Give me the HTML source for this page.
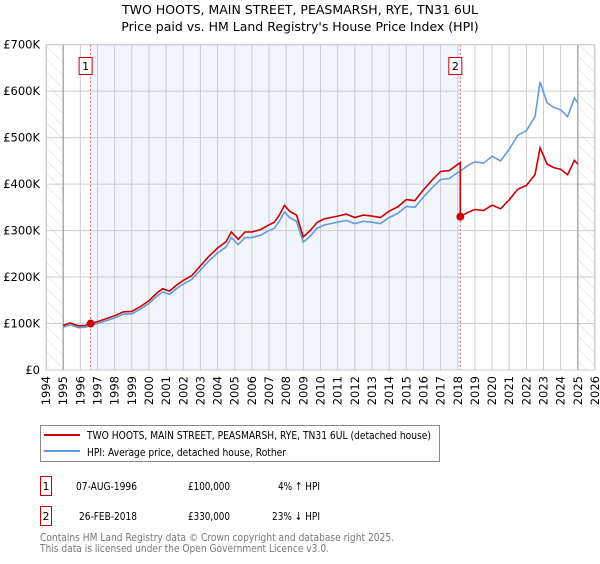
<!DOCTYPE html>
<html><head><meta charset="utf-8"><style>
body{margin:0;background:#fff;font-family:"DejaVu Sans","Liberation Sans",sans-serif;}
svg text{font-family:"DejaVu Sans","Liberation Sans",sans-serif;}
</style></head><body>
<svg id="chart" width="600" height="560" xmlns="http://www.w3.org/2000/svg">
<defs><pattern id="hatch" width="9" height="9" patternUnits="userSpaceOnUse" patternTransform="rotate(-45)"><line x1="0" y1="0" x2="0" y2="9" stroke="#d8d8d8" stroke-width="1"/></pattern></defs>
<text x="300" y="14" font-size="12.5" text-anchor="middle">TWO HOOTS, MAIN STREET, PEASMARSH, RYE, TN31 6UL</text>
<text x="300" y="31" font-size="12.5" text-anchor="middle">Price paid vs. HM Land Registry's House Price Index (HPI)</text>
<g id="plot"></g>
<g>
<rect x="40.5" y="425.5" width="399" height="36" fill="#fff" stroke="#888"/>
<line x1="44" y1="435" x2="80" y2="435" stroke="#cc0000" stroke-width="2"/>
<text x="87" y="439" font-size="11" textLength="344" lengthAdjust="spacingAndGlyphs">TWO HOOTS, MAIN STREET, PEASMARSH, RYE, TN31 6UL (detached house)</text>
<line x1="44" y1="451" x2="80" y2="451" stroke="#6699dd" stroke-width="2"/>
<text x="87" y="456" font-size="11" textLength="199" lengthAdjust="spacingAndGlyphs">HPI: Average price, detached house, Rother</text>
</g>
<g font-size="11">
<rect x="40.5" y="476.5" width="11" height="19" fill="#fff" stroke="#cc0000"/>
<text x="46" y="490" text-anchor="middle">1</text>
<text x="76" y="490" textLength="61" lengthAdjust="spacingAndGlyphs">07-AUG-1996</text>
<text x="188" y="490" textLength="42" lengthAdjust="spacingAndGlyphs">£100,000</text>
<text x="278" y="490" textLength="42" lengthAdjust="spacingAndGlyphs">4% ↑ HPI</text>
<rect x="40.5" y="506.5" width="11" height="19" fill="#fff" stroke="#cc0000"/>
<text x="46" y="520" text-anchor="middle">2</text>
<text x="79" y="520" textLength="58" lengthAdjust="spacingAndGlyphs">26-FEB-2018</text>
<text x="188" y="520" textLength="42" lengthAdjust="spacingAndGlyphs">£330,000</text>
<text x="272" y="520" textLength="48" lengthAdjust="spacingAndGlyphs">23% ↓ HPI</text>
</g>
<g font-size="11" fill="#777">
<text x="40" y="541" textLength="354" lengthAdjust="spacingAndGlyphs">Contains HM Land Registry data © Crown copyright and database right 2025.</text>
<text x="40" y="552" textLength="289" lengthAdjust="spacingAndGlyphs">This data is licensed under the Open Government Licence v3.0.</text>
</g>
</svg>
<script>
const hpiYears=[1995.0,1995.4,1995.9,1996.3,1996.6,1997.0,1997.5,1998.0,1998.5,1999.0,1999.5,2000.0,2000.5,2000.8,2001.2,2001.6,2002.0,2002.5,2003.0,2003.5,2004.0,2004.5,2004.8,2005.2,2005.6,2006.0,2006.5,2007.0,2007.3,2007.6,2007.9,2008.2,2008.6,2009.0,2009.4,2009.8,2010.2,2010.6,2011.0,2011.5,2012.0,2012.5,2013.0,2013.5,2014.0,2014.5,2015.0,2015.5,2016.0,2016.5,2017.0,2017.5,2018.0,2018.15,2018.6,2019.0,2019.5,2020.0,2020.5,2021.0,2021.5,2022.0,2022.5,2022.8,2023.2,2023.6,2024.0,2024.4,2024.8,2025.0];
const hpiValues=[92,97,91,92,96,100,106,112,120,121,131,143,160,168,163,175,185,195,215,235,252,265,285,270,285,285,290,300,305,320,340,328,320,275,288,305,312,315,318,322,315,320,318,315,328,337,352,350,372,392,410,412,425,428,440,448,445,460,450,475,505,515,545,620,575,565,560,545,585,575];
const sale1=[1996.6,100];const sale2=[2018.15,330];
const xTicks=[1994,1995,1996,1997,1998,1999,2000,2001,2002,2003,2004,2005,2006,2007,2008,2009,2010,2011,2012,2013,2014,2015,2016,2017,2018,2019,2020,2021,2022,2023,2024,2025,2026];
const yTicks=[0,100,200,300,400,500,600,700];
const yLabels=["£0","£100K","£200K","£300K","£400K","£500K","£600K","£700K"];
const X0=46,X1=595,Y0=370,Y1=44.7;
const x=t=>X0+(t-1994)/(2026-1994)*(X1-X0);
const y=v=>Y0-v/700*(Y0-Y1);
const NS="http://www.w3.org/2000/svg";
const g=document.getElementById('plot');
function mk(tag,attrs){const e=document.createElementNS(NS,tag);for(const k in attrs)e.setAttribute(k,attrs[k]);g.appendChild(e);return e;}
let e;
e=mk('rect',{x:x(sale1[0]),y:Y1,width:x(sale2[0])-x(sale1[0]),height:Y0-Y1,fill:'#f2f5fc'});


e=mk('rect',{x:X0,y:Y1,width:x(1995)-X0,height:Y0-Y1,fill:'url(#hatch)'});


e=mk('rect',{x:x(2025),y:Y1,width:X1-x(2025),height:Y0-Y1,fill:'url(#hatch)'});


xTicks.forEach(t=>{
 e=mk('line',{x1:x(t),x2:x(t),y1:Y1,y2:Y0,stroke:'#ccc','stroke-width':1});
 
 
 e=mk('text',{x:0,y:0,'font-size':11.5,'text-anchor':'end',transform:`translate(${x(t)+4},${Y0+6}) rotate(-90)`});
 e.textContent=t;
 
 
});
yTicks.forEach((v,i)=>{
 e=mk('line',{x1:X0,x2:X1,y1:y(v),y2:y(v),stroke:'#ccc','stroke-width':1});
 
 
 e=mk('text',{x:X0-6,y:y(v)+4,'font-size':11.5,'text-anchor':'end'});
 e.textContent=yLabels[i];
 
 
});
[1995,2025].forEach(t=>{e=mk('line',{x1:x(t),x2:x(t),y1:Y1,y2:Y0,stroke:'#999','stroke-width':1.2});
 
 });
[sale1,sale2].forEach(s=>{e=mk('line',{x1:x(s[0]),x2:x(s[0]),y1:Y1,y2:Y0,stroke:'#e06060','stroke-width':1,'stroke-dasharray':'2,2'});
 
 });
function interp(t){for(let i=0;i<hpiYears.length-1;i++){if(t<=hpiYears[i+1]){const f=(t-hpiYears[i])/(hpiYears[i+1]-hpiYears[i]);return hpiValues[i]+f*(hpiValues[i+1]-hpiValues[i]);}}return hpiValues[hpiValues.length-1];}
const r1=sale1[1]/interp(sale1[0]),r2=sale2[1]/interp(sale2[0]);
const bp=hpiYears.map((t,i)=>`${x(t).toFixed(1)},${y(hpiValues[i]).toFixed(1)}`).join(' ');
e=mk('polyline',{points:bp,fill:'none',stroke:'#6699dd','stroke-width':1.6});


const rp=[];
hpiYears.forEach((t,i)=>{if(t<sale2[0])rp.push([t,hpiValues[i]*r1]);});
rp.push([sale2[0],interp(sale2[0])*r1]);
rp.push([sale2[0],sale2[1]]);
hpiYears.forEach((t,i)=>{if(t>sale2[0])rp.push([t,hpiValues[i]*r2]);});
e=mk('polyline',{points:rp.map(p=>`${x(p[0]).toFixed(1)},${y(p[1]).toFixed(1)}`).join(' '),fill:'none',stroke:'#cc0000','stroke-width':1.6});


[sale1,sale2].forEach((s,i)=>{
 e=mk('circle',{cx:x(s[0]),cy:y(s[1]),r:4,fill:'#cc0000'});
 
 
 e=mk('rect',{x:x(s[0])-11.5,y:57.5,width:13,height:17,fill:'#fff',stroke:'#cc0000'});
 
 
 e=mk('text',{x:x(s[0])-5,y:70,'font-size':11,'text-anchor':'middle'});
 e.textContent=String(i+1);
 
 
});
e=mk('rect',{x:X0+0.5,y:Y1,width:X1-X0-1,height:Y0-Y1,fill:'none',stroke:'#ccc'});


</script>
</body></html>
